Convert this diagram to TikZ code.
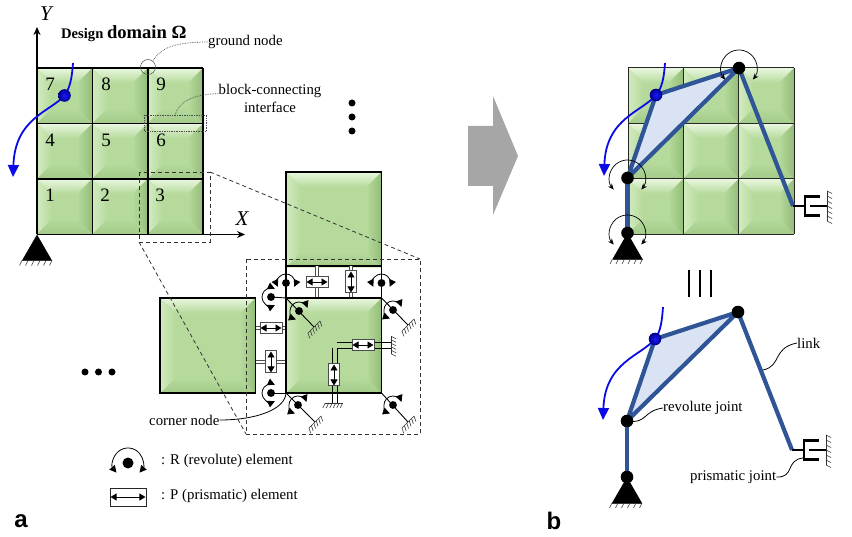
\documentclass[tikz,border=0pt]{standalone}
\usepackage{fontspec}
\setmainfont{Liberation Serif}
\newfontfamily\panelfont{Liberation Sans}
\usetikzlibrary{calc,arrows.meta}
\definecolor{tilemid}{HTML}{B5DA9C}
\definecolor{tiletop}{HTML}{EAF7DF}
\definecolor{tileleft}{HTML}{D2EBBF}
\definecolor{tileright}{HTML}{93BC78}
\definecolor{tilebot}{HTML}{A2CA88}
\definecolor{linkblue}{HTML}{2F5597}
\definecolor{linkfill}{HTML}{DAE3F3}
\definecolor{pathblue}{HTML}{0A0AE6}
\tikzset{
    lbl/.style={inner sep=0pt,align=center,font=\fontsize{14.8}{18}\selectfont},
    cellnum/.style={inner sep=0pt,font=\fontsize{19}{19}\selectfont},
    axislbl/.style={inner sep=0pt,font=\fontsize{21}{21}\selectfont\itshape},
    panellbl/.style={inner sep=0pt,font=\fontsize{24}{24}\selectfont\panelfont\bfseries},
    gridline/.style={line width=1.7pt},
    gridthin/.style={line width=1pt,draw=black!85},
    axisline/.style={line width=1.3pt,-{Stealth[length=8pt,width=7pt]}},
    dashbox/.style={line width=.8pt,dash pattern=on 4pt off 3pt,draw=black!80},
    dotcurve/.style={line width=.7pt,densely dotted,draw=black!70},
    leadcurve/.style={line width=.8pt},
    relarc/.style={line width=.8pt,{Triangle[length=7pt,width=7pt]}-{Triangle[length=7pt,width=7pt]}},
    legendarc/.style={line width=.8pt,{Triangle[length=7pt,width=7pt]}-{Triangle[length=7pt,width=7pt]}},
    jointarc/.style={line width=.7pt,{Stealth[length=6pt,width=5pt]}-{Stealth[length=6pt,width=5pt]}},
    pboxh/.style={draw=black!70,line width=1pt,fill=white,minimum width=22pt,minimum height=11pt,inner sep=0pt},
    pboxv/.style={draw=black!70,line width=1pt,fill=white,minimum width=11pt,minimum height=22pt,inner sep=0pt},
    parrow/.style={line width=.8pt,{Triangle[length=6pt,width=7pt]}-{Triangle[length=6pt,width=7pt]},shorten >=1pt,shorten <=1pt},
    plink/.style={line width=1pt,double=white,double distance=2.6pt,draw=black!70},
    linkbar/.style={line width=4.2pt,draw=linkblue,line join=round},
    bluepath/.style={line width=1.8pt,draw=pathblue,-{Triangle[length=12pt,width=11pt]}},
    bluedot/.style={inner color=blue!90!white,outer color=blue!55!black},
    hatchtick/.style={line width=.6pt,draw=black!80},
    prisline/.style={line width=2.2pt}
}
\newcommand{\greentile}[3]{%
    \pgfmathsetmacro\ti{15}\pgfmathsetmacro\tj{#3-\ti}
    \begin{scope}[shift={(#1,#2)}]
        \fill [tilemid] (0,0) rectangle (#3,#3);
        \shade [top color=tiletop,bottom color=tilemid] (0,0) -- (#3,0) -- (\tj,\ti) -- (\ti,\ti) -- cycle;
        \shade [left color=tileleft,right color=tilemid] (0,0) -- (\ti,\ti) -- (\ti,\tj) -- (0,#3) -- cycle;
        \shade [left color=tilemid,right color=tileright] (#3,0) -- (\tj,\ti) -- (\tj,\tj) -- (#3,#3) -- cycle;
        \shade [top color=tilemid,bottom color=tilebot] (0,#3) -- (\ti,\tj) -- (\tj,\tj) -- (#3,#3) -- cycle;
    \end{scope}
}
\newcommand{\revelem}[5][50]{%
    \draw [#2] ($(#3)+(#4+#1:#5)$) arc [start angle=#4+#1,end angle=#4+360-#1,radius=#5];
    \fill (#3) circle ({#5*0.26+1.6});
}
\newcommand{\groundmark}[4]{%
    \begin{scope}[shift={(#1)},rotate=#2]
        \draw [hatchtick] ({-#3*#4/2},0) -- ({#3*#4/2},0);
        \foreach \k in {0,...,#3}
            \draw [hatchtick] ({(\k-#3/2)*#4},0) -- ++(-2.5,5);
    \end{scope}
}
\newcommand{\supportmark}[1]{%
    \fill (#1) -- ($(#1)+(-15,26)$) -- ($(#1)+(15,26)$) -- cycle;
    \coordinate (#1base) at ($(#1)+(0,26)$);
    \groundmark{#1base}{0}{5}{6}
}
\newcommand{\prisjoint}[1]{%
    \coordinate (#1a) at ($(#1)+(12,0)$);
    \coordinate (#1b) at ($(#1)+(17,0)$);
    \coordinate (#1w) at ($(#1)+(34,0)$);
    \draw [prisline] (#1) -- (#1a);
    \draw [prisline] ($(#1)+(27,-9.5)$) -- ($(#1a)+(0,-9.5)$) -- ($(#1a)+(0,9.5)$) -- ($(#1)+(27,9.5)$);
    \draw [prisline] (#1b) -- (#1w);
    \groundmark{#1w}{90}{6}{5}
}
\newcommand{\pelemh}[2]{%
    \node (#1) [pboxh] at (#2) {};
    \draw [parrow] (#1.west) -- (#1.east);
}
\newcommand{\pelemv}[2]{%
    \node (#1) [pboxv] at (#2) {};
    \draw [parrow] (#1.north) -- (#1.south);
}
\begin{document}
\begin{tikzpicture}[x=1pt,y=-1pt]
    \useasboundingbox (0,0) rectangle (852,537);
    % panel a: design domain
    \foreach \i in {0,1,2}
        \foreach \j in {0,1,2}
            \greentile{37+55.4*\i}{68+55.4*\j}{55.4};
    \coordinate (O) at (37,234.5);
    \coordinate (Xend) at (245,234.5);
    \coordinate (Yend) at (37,27);
    \foreach \i in {1,2,3}
        \draw [gridline] ({37+55.4*\i},68) -- ({37+55.4*\i},234.5);
    \foreach \j in {0,1,2}
        \draw [gridline] (37,{68+55.4*\j}) -- (203.2,{68+55.4*\j});
    \draw [axisline] (O) -- (Xend);
    \draw [axisline] (O) -- (Yend);
    \node (labY) [axislbl] at (46,14) {Y};
    \node (labX) [axislbl] at (242,219) {X};
    \supportmark{O}
    \node (n7) [cellnum] at (50,84) {7};
    \node (n8) [cellnum] at (106,84) {8};
    \node (n9) [cellnum] at (161,84) {9};
    \node (n4) [cellnum] at (50,140) {4};
    \node (n5) [cellnum] at (106,140) {5};
    \node (n6) [cellnum] at (161,140) {6};
    \node (n1) [cellnum] at (50,195) {1};
    \node (n2) [cellnum] at (105,195) {2};
    \node (n3) [cellnum] at (160,195) {3};
    \coordinate (Pa) at (64.5,95.5);
    \draw [bluepath] (73,63) .. controls (72,78) and (70,88) .. (Pa) .. controls (50,112) and (15,118) .. (13,177);
    \shade [bluedot] (Pa) circle (6.3);
    \node (title) [anchor=base west,inner sep=0pt] at (61,39) {\fontsize{14.6}{15}\selectfont\bfseries Design \fontsize{18.6}{19}\selectfont domain Ω};
    % callouts
    \node (gnode) [lbl,anchor=west] at (208,42) {ground node};
    \coordinate (gc) at (148,67);
    \draw [line width=.5pt,draw=black!70] (gc) circle (7.5);
    \draw [dotcurve] (gnode.west) .. controls (175,42) and (160,48) .. (153,61);
    \node (binter) [lbl,anchor=north] at (270,84) {block-connecting\\interface};
    \coordinate (ba) at (144,115);
    \coordinate (bb) at (206,131);
    \draw [dotcurve,line width=.9pt] (ba) rectangle (bb);
    \draw [dotcurve] (221,93.5) .. controls (195,94) and (180,100) .. (175,115);
    % zoomed region
    \coordinate (Za) at (139,172);
    \coordinate (Zb) at (210,242);
    \coordinate (Ztr) at (210,172);
    \coordinate (Zbl) at (139,242);
    \coordinate (Ba) at (246,259);
    \coordinate (Bb) at (420,434);
    \coordinate (Btr) at (420,259);
    \coordinate (Bbl) at (246,434);
    \greentile{286}{172}{95.5}
    \greentile{286}{298}{95.5}
    \greentile{160}{298}{95.5}
    \coordinate (Ta) at (286,266);
    \coordinate (Tb) at (381.5,266);
    \coordinate (Ca) at (286,298);
    \coordinate (Cb) at (381.5,298);
    \coordinate (Cc) at (286,393);
    \coordinate (Cd) at (381.5,393);
    \coordinate (La) at (255.5,298);
    \coordinate (Lb) at (255.5,393);
    \draw [gridline] (286,172) rectangle (381.5,266);
    \draw [gridline] (160,298) rectangle (255.5,393);
    \draw [plink] (317,266) -- (317,298);
    \draw [plink] (351,266) -- (351,298);
    \draw [plink] (255.5,328) -- (286,328);
    \draw [plink] (255.5,362) -- (286,362);
    \draw [gridline] (Ta) -- (Ca);
    \draw [gridline] (Tb) -- (Cb);
    \coordinate (R1) at (286,283);
    \coordinate (R2) at (381.5,283);
    \coordinate (R3) at (271,297);
    \coordinate (R4) at (271,393);
    \coordinate (R5) at (299,311);
    \coordinate (R6) at (393,310);
    \coordinate (R7) at (298,405);
    \coordinate (R8) at (393,405);
    \coordinate (Ga) at (314,327);
    \coordinate (Gb) at (408,325);
    \coordinate (Gc) at (315,422);
    \coordinate (Gd) at (408,422);
    \draw [line width=.9pt] (R3) -- (Ca);
    \draw [line width=.9pt] (R4) -- (Cc);
    \draw [line width=.9pt] (Ca) -- (Ga);
    \draw [line width=.9pt] (Cb) -- (Gb);
    \draw [line width=.9pt] (Cc) -- (Gc);
    \draw [line width=.9pt] (Cd) -- (Gd);
    \groundmark{Ga}{45}{5}{3.4}
    \groundmark{Gb}{45}{5}{3.4}
    \groundmark{Gc}{45}{5}{3.4}
    \groundmark{Gd}{45}{5}{3.4}
    % interior prismatic pair
    \coordinate (Ha) at (337,342);
    \coordinate (Hb) at (337,348);
    \coordinate (Hc) at (391,342);
    \coordinate (Hd) at (391,348);
    \coordinate (Ve) at (332,348);
    \coordinate (Vf) at (332,403);
    \coordinate (Vg) at (337,403);
    \coordinate (Wall) at (391,345);
    \coordinate (Floor) at (334,403);
    \draw [line width=.9pt] (Ha) -- (Hc);
    \draw [line width=.9pt] (Vg) -- (Hb) -- (Hd);
    \draw [line width=.9pt] (Ve) -- (Vf);
    \draw [gridline] (286,298) rectangle (381.5,393);
    \groundmark{Wall}{90}{5}{3.5}
    \groundmark{Floor}{0}{5}{3.5}
    \revelem[65]{relarc}{R1}{90}{9}
    \revelem[65]{relarc}{R2}{90}{9}
    \revelem[65]{relarc}{R3}{0}{9}
    \revelem[65]{relarc}{R4}{0}{9}
    \revelem[65]{relarc}{R5}{45}{9}
    \revelem[65]{relarc}{R6}{45}{9}
    \revelem[65]{relarc}{R7}{45}{9}
    \revelem[65]{relarc}{R8}{45}{9}
    \pelemh{Pa1}{317,282}
    \pelemv{Pa2}{351,282}
    \pelemh{Pa3}{271,328}
    \pelemv{Pa4}{271,362}
    \pelemh{Pa5}{363,345}
    \pelemv{Pa6}{334,375}
    \draw [dashbox] (Za) rectangle (Zb);
    \draw [dashbox] (Ba) rectangle (Bb);
    \draw [dashbox] (Ztr) -- (Btr);
    \draw [dashbox] (Zbl) -- (Bbl);
    \node (cnode) [lbl,anchor=west] at (149,420) {corner node};
    \draw [leadcurve] (cnode.east) .. controls (255,420) and (285,410) .. (Cc);
    \foreach \y in {103,117,131}
        \fill (352,\y) circle (3.5);
    \foreach \x in {85,98.5,112}
        \fill (\x,372) circle (3.5);
    % legend
    \coordinate (Lr) at (128,463);
    \revelem{legendarc}{Lr}{90}{15}
    \node (lrtxt) [lbl,anchor=west] at (161,461) {: R (revolute) element};
    \node (lpbox) [draw=black!85,line width=.9pt,minimum width=36pt,minimum height=18pt,inner sep=0pt] at (128,497) {};
    \draw [parrow] (lpbox.west) -- (lpbox.east);
    \node (lptxt) [lbl,anchor=west] at (161,496) {: P (prismatic) element};
    \node (pa) [panellbl] at (21,521) {a};
    \node (pb) [panellbl] at (554,521) {b};
    % big arrow
    \fill [black!35] (468,126) -- (493,126) -- (493,96) -- (518,156) -- (493,215) -- (493,186) -- (468,186) -- cycle;
    % panel b: mechanism on the blocks
    \foreach \i in {0,1,2}
        \foreach \j in {0,1,2}
            \greentile{628+55.4*\i}{68+55.4*\j}{55.4};
    \foreach \i in {0,1,2,3}
        \draw [gridthin] ({628+55.4*\i},68) -- ({628+55.4*\i},234.5);
    \foreach \j in {0,1,2,3}
        \draw [gridthin] (628,{68+55.4*\j}) -- (794.2,{68+55.4*\j});
    \coordinate (A) at (627.5,233);
    \coordinate (B) at (627.5,178);
    \coordinate (C) at (656,95);
    \coordinate (D) at (739,68);
    \coordinate (E) at (793,206);
    \filldraw [linkfill] (B) -- (C) -- (D) -- cycle;
    \draw [linkbar] (A) -- (B);
    \draw [linkbar] (B) -- (C) -- (D) -- cycle;
    \draw [linkbar] (D) -- (E);
    \prisjoint{E}
    \supportmark{A}
    \revelem{jointarc}{A}{90}{18}
    \revelem{jointarc}{B}{90}{18}
    \revelem{jointarc}{D}{90}{18}
    \draw [bluepath] (665,63) .. controls (664,78) and (662,88) .. (C) .. controls (642,112) and (606,118) .. (604,176);
    \shade [bluedot] (C) circle (6.3);
    % equivalence bars
    \foreach \x in {689,700,711}
        \draw [line width=2.6pt] (\x,270) -- (\x,297);
    % panel b: mechanism alone
    \coordinate (A2) at (627,477);
    \coordinate (B2) at (627,421);
    \coordinate (C2) at (655,339);
    \coordinate (D2) at (738,312);
    \coordinate (E2) at (792,450);
    \filldraw [linkfill] (B2) -- (C2) -- (D2) -- cycle;
    \draw [linkbar] (A2) -- (B2);
    \draw [linkbar] (B2) -- (C2) -- (D2) -- cycle;
    \draw [linkbar] (D2) -- (E2);
    \prisjoint{E2}
    \supportmark{A2}
    \fill (A2) circle (6.3);
    \fill (B2) circle (6.3);
    \fill (D2) circle (6.3);
    \draw [bluepath] (663,307) .. controls (662,320) and (661,331) .. (C2) .. controls (641,356) and (605,362) .. (603,420);
    \shade [bluedot] (C2) circle (6.3);
    \node (llink) [lbl,anchor=west] at (797,343) {link};
    \coordinate (Lk) at (763,370);
    \draw [leadcurve] (Lk) .. controls (782,366) and (772,348) .. (llink.west);
    \node (lrev) [lbl,anchor=west] at (663,408) {revolute joint};
    \draw [leadcurve] (B2) .. controls (648,424) and (642,411) .. (lrev.west);
    \node (lpri) [lbl,anchor=west] at (690,477) {prismatic joint};
    \coordinate (Pj) at (803,458);
    \draw [leadcurve] (lpri.east) .. controls (795,478) and (785,460) .. (Pj);
\end{tikzpicture}
\end{document}
